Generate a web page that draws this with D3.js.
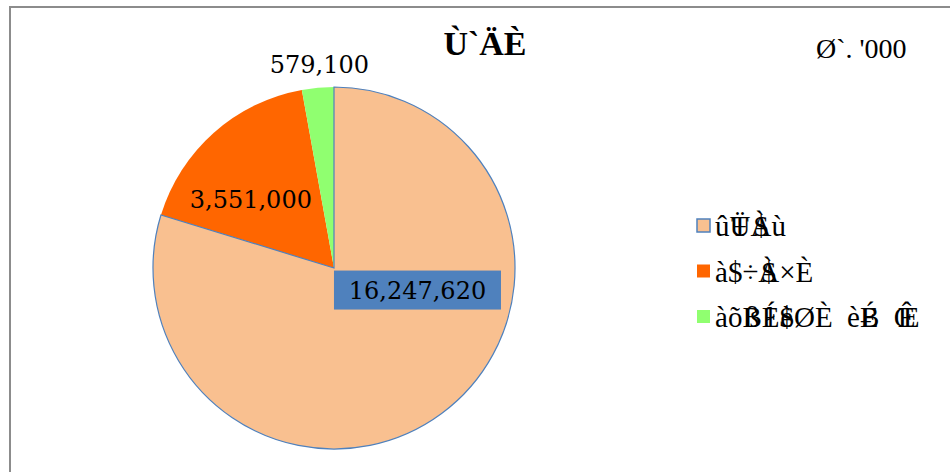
<!DOCTYPE html>
<html>
<head>
<meta charset="utf-8">
<script src="https://cdn.jsdelivr.net/npm/d3@7"></script>
<style>
  body { margin: 0; background: #fff; }
  svg { display: block; font-family: "Liberation Serif", "DejaVu Serif", serif; }
</style>
</head>
<body>
<div id="chart"></div>
<script>
// data (text copied as it shows in the picture, "|" splits glyph groups that sit on top of each other)
const title = "Ù`ÄÈ";
const unitLabel = "Ø`. '000";
const categories = ["û|ÜŦ|À$|ù", "à|$|÷|À$|×|È", "à|õ|ßB|Éł|è$|Ø|È| | |è|ÉɃ| | |ÊŒ"];
const values = [16247620, 3551000, 579100];
const colors = ["#F9C090", "#FF6600", "#90FF70"];

const width = 950, height = 472;
const cx = 334, cy = 268, radius = 181;

const svg = d3.select("#chart").append("svg")
  .attr("width", width)
  .attr("height", height);

// chart area frame (right/bottom edges fall outside the window)
svg.append("rect")
  .attr("x", 10).attr("y", 7)
  .attr("width", width + 20).attr("height", height + 20)
  .attr("fill", "none")
  .attr("stroke", "#8c8c8c")
  .attr("stroke-width", 2);

svg.append("text")
  .attr("x", 485).attr("y", 55)
  .attr("text-anchor", "middle")
  .attr("font-size", 34).attr("font-weight", "bold")
  .text(title);

svg.append("text")
  .attr("x", 816).attr("y", 58)
  .attr("font-size", 28)
  .text(unitLabel);

const pie = d3.pie().sort(null).value(d => d);
const arcs = pie(values);
const arc = d3.arc().innerRadius(0).outerRadius(radius);

const g = svg.append("g").attr("transform", `translate(${cx},${cy})`);

g.selectAll("path")
  .data(arcs)
  .enter().append("path")
  .attr("d", arc)
  .attr("fill", (d, i) => colors[i])
  .attr("stroke", "none");

// outline of the first slice drawn on top so it shows over its neighbours
g.append("path")
  .datum(arcs[0])
  .attr("d", arc)
  .attr("fill", "none")
  .attr("stroke", "#4F81BD")
  .attr("stroke-width", 1.2);

// data labels: polar position (degrees clockwise from 12 o'clock, radius as share of pie radius)
const labelPolar = [[104.8, 0.477], [309.7, 0.597], [355.9, 1.13]];
const fmt = d3.format(",");

arcs.forEach((d, i) => {
  const a = labelPolar[i][0] * Math.PI / 180, r = labelPolar[i][1] * radius;
  const x = Math.sin(a) * r, y = -Math.cos(a) * r;
  const lg = g.append("g").attr("transform", `translate(${x},${y})`);
  if (i === 0) {
    const bw = 167, bh = 39;
    lg.append("rect")
      .attr("x", -bw / 2).attr("y", -bh / 2)
      .attr("width", bw).attr("height", bh)
      .attr("fill", "#4F81BD");
  }
  lg.append("text")
    .attr("text-anchor", "middle")
    .attr("dy", "0.36em")
    .attr("font-family", "DejaVu Serif")
    .attr("font-size", 24)
    .text(fmt(d.value));
});

// legend
const legendFont = 29;
const legendY = d3.scalePoint().domain(d3.range(categories.length)).range([226, 317]);
const legend = svg.append("g");

// measure single glyph widths with a throwaway text
const probe = svg.append("text").attr("font-size", legendFont).attr("xml:space", "preserve");
const glyphW = ch => ch === " " ? 7 : probe.text(ch).node().getComputedTextLength();

categories.forEach((c, i) => {
  const y = legendY(i);
  legend.append("rect")
    .attr("x", 697).attr("y", y - 7)
    .attr("width", 13).attr("height", 13)
    .attr("fill", colors[i])
    .attr("stroke", i === 0 ? "#4F81BD" : "none")
    .attr("stroke-width", 1.5);
  const t = legend.append("text")
    .attr("x", 715).attr("y", y + 10)
    .attr("font-size", legendFont)
    .attr("xml:space", "preserve");
  let carry = 0; // pen correction left over from the previous group
  c.split("|").forEach(grp => {
    const chars = Array.from(grp);
    const ws = chars.map(glyphW);
    const w = d3.max(ws);
    let pen = 0; // pen position relative to the group start
    chars.forEach((ch, k) => {
      const target = (w - ws[k]) / 2;
      t.append("tspan").attr("dx", carry + target - pen).text(ch);
      carry = 0;
      pen = target + ws[k];
    });
    carry = w - pen;
  });
});
probe.remove();
</script>
</body>
</html>
